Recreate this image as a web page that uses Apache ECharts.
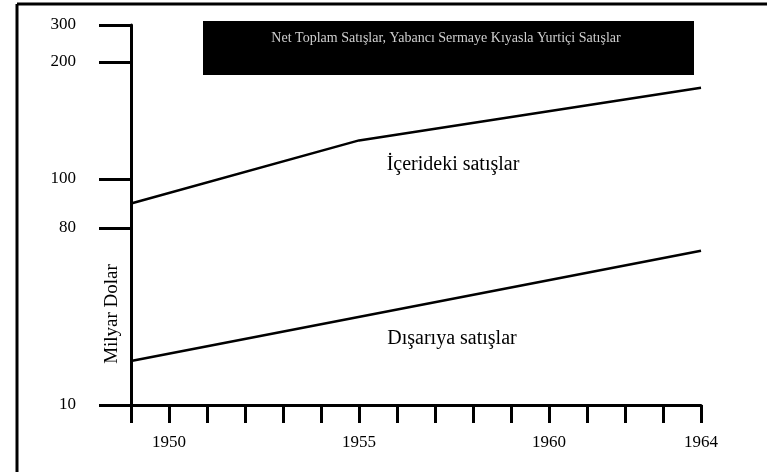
<!DOCTYPE html>
<html>
<head>
<meta charset="utf-8">
<script src="https://cdn.jsdelivr.net/npm/echarts@6/dist/echarts.min.js"></script>
<style>
  html, body { margin: 0; padding: 0; background: #fff; }
  #chart { width: 767px; height: 472px; }
</style>
</head>
<body>
<div id="chart"></div>
<script>
// years and sales (milyar dolar)
const innerYears = [1949, 1955, 1964];
const innerSales = [90, 133, 178];
const outerYears = [1949, 1964];
const outerSales = [27.4, 71];

const xLabelYears = [1950, 1955, 1960, 1964];

// the printed y axis is not linear nor log: labelled values and where they sit on the axis
const yTickValues = [10, 80, 100, 200, 300];
const yTickPlaces = [0, 177, 226, 343, 380];

const FONT = 'Liberation Serif';

// value -> axis place, piecewise between the labelled ticks
const toAxis = (v) => {
  for (let i = 1; i < yTickValues.length; i++) {
    if (v <= yTickValues[i]) {
      const a = yTickValues[i - 1], b = yTickValues[i];
      const pa = yTickPlaces[i - 1], pb = yTickPlaces[i];
      return pa + (v - a) / (b - a) * (pb - pa);
    }
  }
  return yTickPlaces[yTickPlaces.length - 1];
};

const chart = echarts.init(document.getElementById('chart'));

const option = {
  backgroundColor: '#fff',
  animation: false,
  grid: { left: 131, right: 66, top: 25, bottom: 67 },
  xAxis: {
    type: 'value',
    min: 1949,
    max: 1964,
    interval: 1,
    axisLine: { lineStyle: { color: '#000', width: 3 } },
    axisTick: { length: 18, lineStyle: { color: '#000', width: 3 } },
    axisLabel: {
      customValues: xLabelYears,
      formatter: (v) => String(v),
      color: '#000',
      fontFamily: FONT,
      fontSize: 17,
      margin: 29,
    },
    splitLine: { show: false },
  },
  yAxis: {
    type: 'value',
    min: 0,
    max: 380,
    axisLine: { show: true, lineStyle: { color: '#000', width: 3 } },
    axisTick: {
      show: true,
      customValues: yTickPlaces,
      length: 32,
      lineStyle: { color: '#000', width: 3 },
    },
    axisLabel: {
      customValues: yTickPlaces,
      formatter: (v) => {
        const i = yTickPlaces.indexOf(v);
        return i >= 0 ? String(yTickValues[i]) : '';
      },
      color: '#000',
      fontFamily: FONT,
      fontSize: 17,
      margin: 55,
    },
    splitLine: { show: false },
  },
  series: [
    {
      name: 'İçerideki satışlar',
      type: 'line',
      data: innerYears.map((y, i) => [y, toAxis(innerSales[i])]),
      symbol: 'none',
      lineStyle: { color: '#000', width: 2.5 },
    },
    {
      name: 'Dışarıya satışlar',
      type: 'line',
      data: outerYears.map((y, i) => [y, toAxis(outerSales[i])]),
      symbol: 'none',
      lineStyle: { color: '#000', width: 2.5 },
    },
  ],
  graphic: [
    // scan frame
    { type: 'line', shape: { x1: 17, y1: 4, x2: 767, y2: 4 }, style: { stroke: '#000', lineWidth: 3 } },
    { type: 'line', shape: { x1: 17, y1: 4, x2: 17, y2: 472 }, style: { stroke: '#000', lineWidth: 3 } },
    // title box
    { type: 'rect', shape: { x: 203, y: 21, width: 491, height: 54 }, style: { fill: '#000' } },
    {
      type: 'text', x: 446, y: 38,
      style: {
        text: 'Net Toplam Satışlar, Yabancı Sermaye Kıyasla Yurtiçi Satışlar',
        fill: '#cfcfcf', font: '14px ' + FONT, align: 'center', verticalAlign: 'middle',
      },
    },
    {
      type: 'text', x: 453, y: 165,
      style: { text: 'İçerideki satışlar', fill: '#000', font: '20px ' + FONT, align: 'center', verticalAlign: 'middle' },
    },
    {
      type: 'text', x: 452, y: 339,
      style: { text: 'Dışarıya satışlar', fill: '#000', font: '20px ' + FONT, align: 'center', verticalAlign: 'middle' },
    },
    {
      type: 'text', x: 112, y: 314, rotation: Math.PI / 2,
      style: { text: 'Milyar Dolar', fill: '#000', font: '19px ' + FONT, align: 'center', verticalAlign: 'middle' },
    },
  ],
};

chart.setOption(option);
window.addEventListener('resize', () => chart.resize());
</script>
</body>
</html>
